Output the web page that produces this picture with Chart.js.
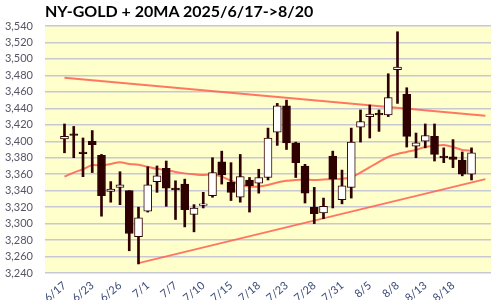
<!DOCTYPE html>
<html>
<head>
<meta charset="utf-8">
<script src="https://cdn.jsdelivr.net/npm/chart.js@4.4.1/dist/chart.umd.min.js"></script>
<style>
html, body { margin: 0; padding: 0; background: #fff; }
#wrap { position: relative; width: 500px; height: 300px; }
#title { position: absolute; left: 45px; top: 1px; font: bold 16px Lato, sans-serif; color: #000; white-space: nowrap; }
</style>
</head>
<body>
<div id="wrap">
  <div id="title">NY-GOLD + 20MA 2025/6/17-&gt;8/20</div>
  <canvas id="chart" width="500" height="300"></canvas>
</div>
<script>
const dates = ['6/17', '6/18', '6/20', '6/23', '6/24', '6/25', '6/26', '6/27', '6/30',
    '7/1', '7/2', '7/3', '7/7', '7/8', '7/9', '7/10', '7/11', '7/14', '7/15', '7/16', '7/17', '7/18',
    '7/21', '7/22', '7/23', '7/24', '7/25', '7/28', '7/29', '7/30', '7/31',
    '8/1', '8/4', '8/5', '8/6', '8/7', '8/8', '8/11', '8/12', '8/13', '8/14', '8/15', '8/18', '8/19', '8/20'];

const open = [3403, 3409, 3387, 3400, 3383, 3339, 3344, 3340, 3284,
    3315, 3351, 3367, 3343, 3348, 3311, 3322, 3334, 3375, 3350, 3332, 3353, 3349,
    3356, 3411, 3443, 3398, 3370, 3320, 3313, 3382, 3329,
    3344, 3417, 3430, 3434, 3432, 3487, 3457, 3394, 3400, 3406, 3382, 3381, 3377, 3360];
const high = [3421, 3418, 3404, 3413, 3384, 3351, 3363, 3340, 3320,
    3369, 3370, 3376, 3352, 3354, 3323, 3338, 3380, 3388, 3374, 3384, 3356, 3366,
    3416, 3446, 3450, 3399, 3372, 3344, 3331, 3388, 3365,
    3416, 3438, 3444, 3438, 3482, 3533, 3465, 3410, 3421, 3421, 3392, 3402, 3387, 3392];
const low = [3386, 3380, 3357, 3362, 3309, 3326, 3323, 3267, 3251,
    3314, 3338, 3321, 3305, 3296, 3290, 3319, 3332, 3348, 3328, 3326, 3314, 3337,
    3353, 3395, 3390, 3356, 3325, 3300, 3306, 3319, 3324,
    3331, 3399, 3404, 3412, 3430, 3446, 3393, 3380, 3392, 3376, 3374, 3368, 3358, 3353];
const close = [3406, 3407, 3385, 3396, 3334, 3342, 3347, 3288, 3307,
    3347, 3358, 3343, 3341, 3317, 3319, 3324, 3362, 3359, 3338, 3357, 3346, 3356,
    3404, 3443, 3398, 3374, 3337, 3312, 3321, 3354, 3346,
    3399, 3424, 3433, 3432, 3453, 3490, 3406, 3398, 3407, 3384, 3380, 3378, 3360, 3386];
const ma20 = [3357, 3362, 3366, 3371, 3370.5, 3372.5, 3374.5, 3372.5, 3371.5,
    3369, 3366.5, 3365, 3362.7, 3361, 3359.8, 3359, 3359.5, 3357, 3352, 3347.5, 3345, 3345,
    3347, 3350, 3352, 3353, 3353.5, 3353, 3353.5, 3354, 3354.5,
    3356, 3362, 3368.5, 3375, 3381, 3384.5, 3387, 3389.5, 3393, 3394.5, 3395.5, 3393, 3389.5, 3388.6];

// trend lines: [day index, price] at both ends
const upperTrendX = [0, 45.5];
const upperTrendY = [3477, 3431];
const lowerTrendX = [8, 45.5];
const lowerTrendY = [3252, 3354];

const yTicks = [3240, 3260, 3280, 3300, 3320, 3340, 3360, 3380, 3400, 3420, 3440, 3460, 3480, 3500, 3520, 3540];
const labelStep = 3;

const dark = '#2e0000';
const lineRed = 'rgba(255, 95, 80, 0.85)';

const plotBg = {
    id: 'plotBg',
    beforeDraw(chart) {
        const a = chart.chartArea;
        const ctx = chart.ctx;
        ctx.save();
        ctx.fillStyle = '#ffffcc';
        ctx.fillRect(a.left, a.top, a.right - a.left, a.bottom - a.top);
        ctx.restore();
    }
};

const ctx = document.getElementById('chart').getContext('2d');
const goldChart = new Chart(ctx, {
    type: 'bar',
    data: {
        datasets: [{
            label: 'body',
            order: 0,
            grouped: false,
            data: dates.map((d, i) => ({x: i, y: [open[i], close[i]]})),
            backgroundColor: dates.map((d, i) => close[i] >= open[i] ? '#ffffff' : dark),
            borderColor: dark,
            borderWidth: 1,
            borderSkipped: false,
            barThickness: 8
        }, {
            label: 'wick',
            order: 1,
            grouped: false,
            data: dates.map((d, i) => ({x: i, y: [low[i], high[i]]})),
            backgroundColor: dark,
            borderWidth: 0,
            barThickness: 2
        }, {
            type: 'line',
            label: '20MA',
            order: 2,
            data: dates.map((d, i) => ({x: i, y: ma20[i]})),
            borderColor: lineRed,
            borderWidth: 2,
            pointRadius: 0,
            tension: 0.3
        }, {
            type: 'line',
            label: 'upper',
            order: 3,
            clip: false,
            data: upperTrendX.map((x, i) => ({x: x, y: upperTrendY[i]})),
            borderColor: lineRed,
            borderWidth: 2,
            pointRadius: 0
        }, {
            type: 'line',
            label: 'lower',
            order: 4,
            clip: false,
            data: lowerTrendX.map((x, i) => ({x: x, y: lowerTrendY[i]})),
            borderColor: lineRed,
            borderWidth: 2,
            pointRadius: 0
        }]
    },
    options: {
        responsive: false,
        animation: false,
        layout: {padding: {top: 26, right: 9, left: 0, bottom: 0}},
        plugins: {
            legend: {display: false},
            tooltip: {enabled: false}
        },
        scales: {
            x: {
                type: 'linear',
                min: -0.5,
                max: 44.5,
                grid: {display: false, drawTicks: false},
                border: {display: false},
                afterBuildTicks: (scale) => {
                    scale.ticks = dates.map((d, i) => i).filter(i => i % labelStep === 0).map(v => ({value: v}));
                },
                afterFit: (scale) => { scale.height = 27; },
                ticks: {
                    autoSkip: false,
                    minRotation: 40,
                    maxRotation: 40,
                    padding: 6,
                    color: '#3b4a78',
                    font: {family: 'Lato', size: 11},
                    callback: (v) => dates[v]
                }
            },
            y: {
                min: 3240,
                max: 3540,
                grid: {color: '#c8c8d4', lineWidth: 1.5, drawTicks: false},
                border: {display: false},
                afterBuildTicks: (scale) => {
                    scale.ticks = yTicks.map(v => ({value: v}));
                },
                afterFit: (scale) => { scale.width = 45; },
                ticks: {
                    padding: 12,
                    color: '#555566',
                    font: {family: 'Lato', size: 11},
                    callback: (v) => v.toLocaleString('en-US')
                }
            }
        }
    },
    plugins: [plotBg]
});
</script>
</body>
</html>
